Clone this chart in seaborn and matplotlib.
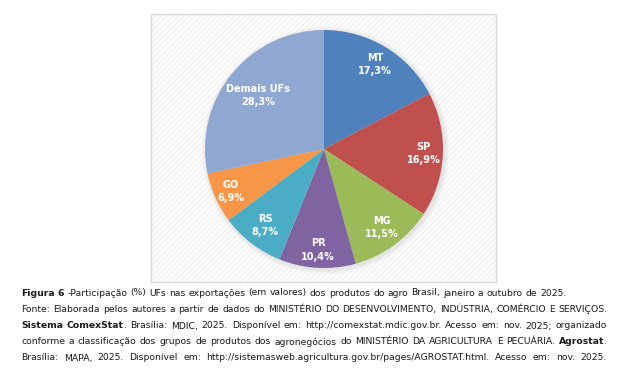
import re
import matplotlib
matplotlib.use("Agg")
import numpy as np
import matplotlib.pyplot as plt
from matplotlib.patches import Rectangle, Circle
import seaborn as sns

# data
ufs = ["MT", "SP", "MG", "PR", "RS", "GO", "Demais UFs"]
shares = [17.3, 16.9, 11.5, 10.4, 8.7, 6.9, 28.3]

caption_lines = [
    [("Figura 6", True),
     (" -Participação (%) UFs nas exportações (em valores) dos produtos do agro Brasil, janeiro a outubro de 2025.", False)],
    [("Fonte: Elaborada pelos autores a partir de dados do MINISTÉRIO DO DESENVOLVIMENTO, INDÚSTRIA, COMÉRCIO E SERVIÇOS.", False)],
    [("Sistema ComexStat", True),
     (". Brasília: MDIC, 2025. Disponível em: http://comexstat.mdic.gov.br. Acesso em: nov. 2025; organizado", False)],
    [("conforme a classificação dos grupos de produtos dos agronegócios do MINISTÉRIO DA AGRICULTURA E PECUÁRIA. ", False),
     ("Agrostat", True), (".", False)],
    [("Brasília: MAPA, 2025. Disponível em: http://sistemasweb.agricultura.gov.br/pages/AGROSTAT.html. Acesso em: nov. 2025.", False)],
]

# styling
colors = ["#4F81BD", "#C0504D", "#9BBB59", "#8064A2", "#4BACC6", "#F79646", "#8FA8D2"]
label_dist = [0.83, 0.84, 0.82, 0.85, 0.81, 0.86, 0.71]
justify = [False, True, True, True, True]
line_end = [544, 607, 607, 607, 607]
line_y = [293, 309.5, 326, 342, 358]

W, H = 629, 377
sns.set_theme(style="white")
plt.rcParams["font.family"] = ["DejaVu Sans"]
plt.rcParams["hatch.linewidth"] = 0.6

fig = plt.figure(figsize=(W / 100, H / 100), dpi=100)
fig.patch.set_facecolor("white")


def fx(px):
    return px / W


def fy(py):
    return 1 - py / H


# chart area box with the faint diagonal texture
bx0, by0, bx1, by1 = 151, 14, 496, 282
fig.patches.append(Rectangle((fx(bx0), fy(by1)), (bx1 - bx0) / W, (by1 - by0) / H,
                             transform=fig.transFigure, facecolor="#fbfbfb",
                             edgecolor="#eeeeee", hatch="//////", linewidth=0, zorder=0))
fig.patches.append(Rectangle((fx(bx0), fy(by1)), (bx1 - bx0) / W, (by1 - by0) / H,
                             transform=fig.transFigure, facecolor="none",
                             edgecolor="#d9d9d9", linewidth=1, zorder=1))

# pie
cx, cy, r = 324, 149, 119
ax = fig.add_axes([fx(cx - r), fy(cy + r), 2 * r / W, 2 * r / H])
ax.set_zorder(3)
ax.patch.set_alpha(0)
for k, a in enumerate([0.05, 0.05, 0.06]):
    ax.add_patch(Circle((0.012, -0.012), 1.0 + 0.012 * (3 - k), color="#808080",
                        alpha=a, linewidth=0, clip_on=False, zorder=0))

labels = [f"{u}\n{s:.1f}%".replace(".", ",") for u, s in zip(ufs, shares)]
wedges, texts = ax.pie(
    shares, labels=labels, colors=colors, startangle=90, counterclock=False,
    labeldistance=0.8, wedgeprops=dict(linewidth=0),
    textprops=dict(color="white", fontweight="bold", fontsize=7, linespacing=1.4),
)
for w, t, d in zip(wedges, texts, label_dist):
    ang = np.deg2rad((w.theta1 + w.theta2) / 2)
    t.set_position((d * np.cos(ang), d * np.sin(ang)))
    t.set_ha("center")
    t.set_va("center")
ax.set_xlim(-1, 1)
ax.set_ylim(-1, 1)
ax.set_aspect("equal")
ax.axis("off")

# caption, laid out word by word so mixed bold and justified lines work
renderer = fig.canvas.get_renderer()


def ink_width(s, bold, size):
    t = fig.text(0, 0, s, fontsize=size, fontweight="bold" if bold else "normal")
    w = t.get_window_extent(renderer).width
    t.remove()
    return w


def advance(s, bold, size):
    if not s:
        return 0.0
    return ink_width(s + "|", bold, size) - ink_width("|", bold, size)


def layout(segs, size):
    pieces = []
    x0, widx, last_space = 0.0, 0, True
    for text, bold in segs:
        for m in re.finditer(r"\S+", text):
            before = text[m.start() - 1] == " " if m.start() > 0 else last_space
            if before and pieces:
                widx += 1
            pieces.append((m.group(), bold, x0 + advance(text[:m.start()], bold, size), widx))
        x0 += advance(text, bold, size)
        last_space = text.endswith(" ")
    return pieces, x0, widx


cap_left, cap_right = 21, 607
base = 10
fits = []
for segs, end in zip(caption_lines, line_end):
    _, nat, _ = layout(segs, base)
    fits.append(base * (end - cap_left) / nat)
# the justified lines set the size; the first line may run a little longer
cap_size = min(min(fits[1:]), fits[0] * (cap_right - cap_left - 20) / (line_end[0] - cap_left))

for segs, yy, just, end in zip(caption_lines, line_y, justify, line_end):
    pieces, nat, ngaps = layout(segs, cap_size)
    extra = (end - cap_left - nat) / ngaps if just else 0.0
    for s, b, xn, wi in pieces:
        fig.text(fx(cap_left + xn + extra * wi), fy(yy), s, fontsize=cap_size,
                 color="#1a1a1a", fontweight="bold" if b else "normal",
                 ha="left", va="center")

fig.savefig("out.png", dpi=100)
